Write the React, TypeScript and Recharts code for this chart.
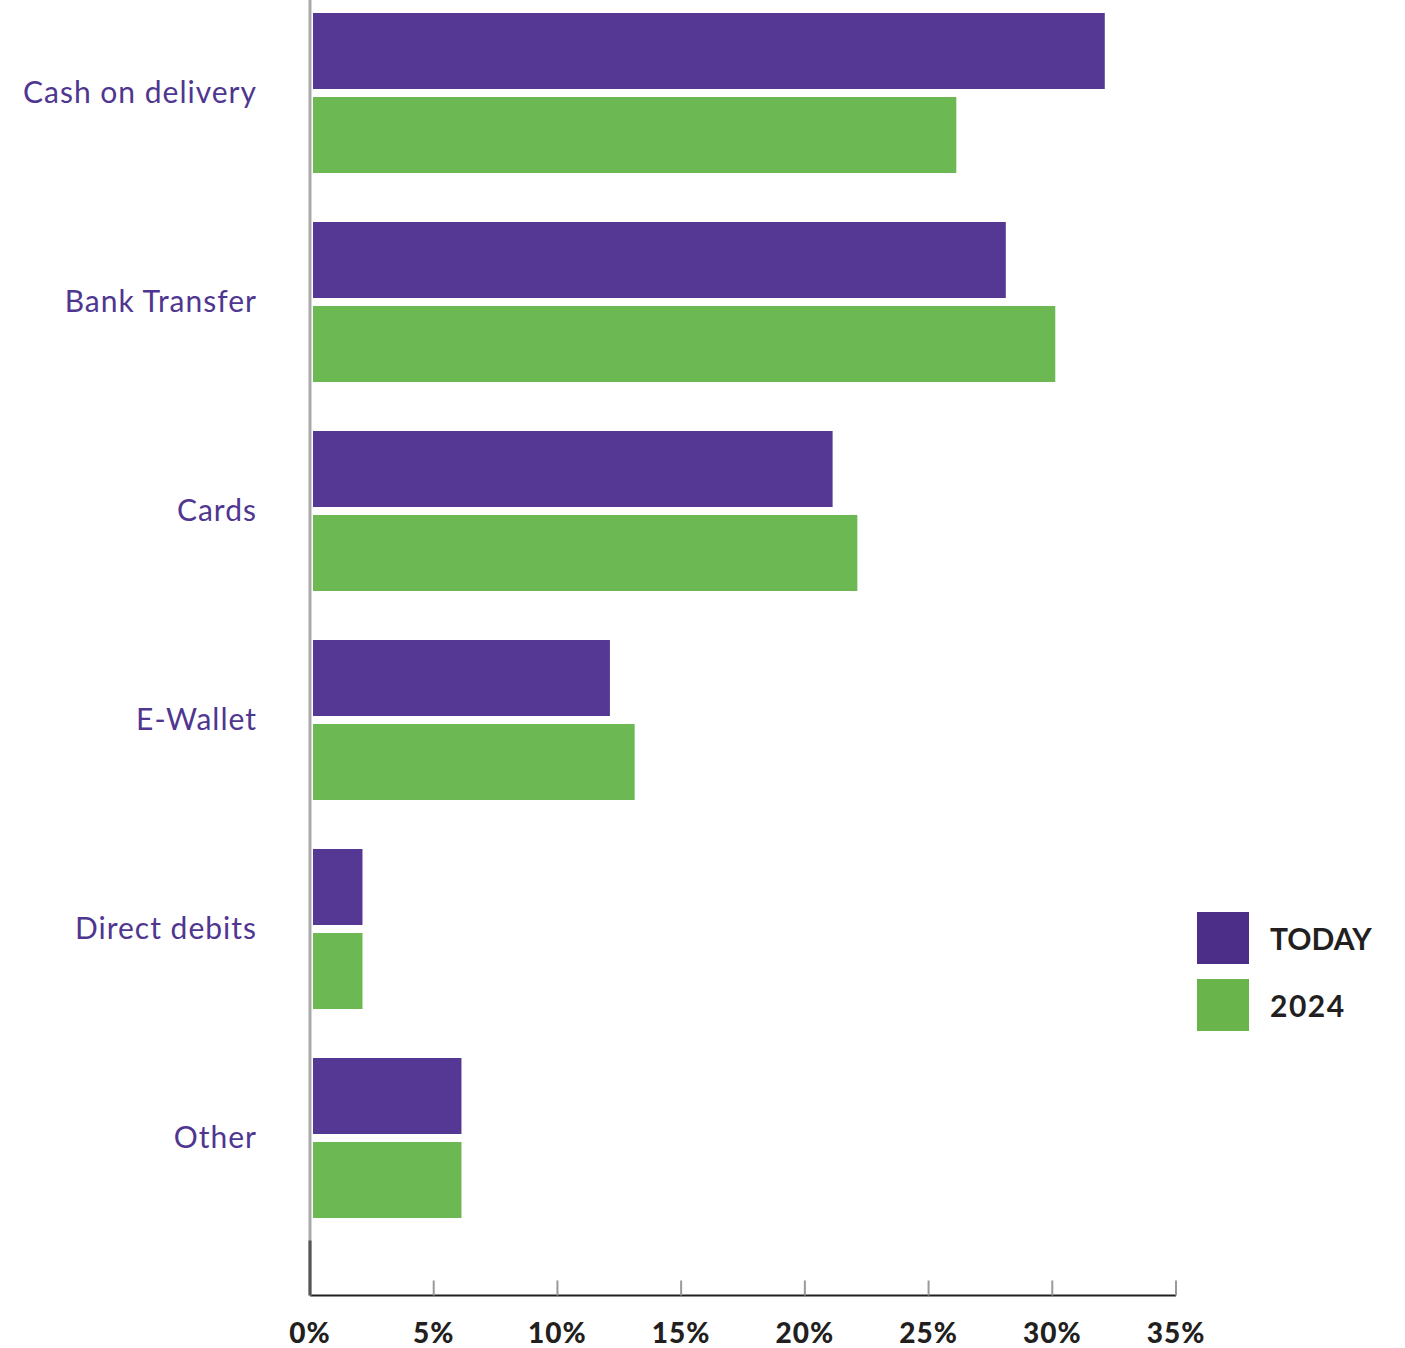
import { BarChart, Bar, XAxis, YAxis } from 'recharts'

const categories = ['Cash on delivery', 'Bank Transfer', 'Cards', 'E-Wallet', 'Direct debits', 'Other']
const todayValues = [32, 28, 21, 12, 2, 6]
const values2024 = [26, 30, 22, 13, 2, 6]
const xTicks = [0, 5, 10, 15, 20, 25, 30, 35]

const PURPLE = '#543893'
const GREEN = '#6cb853'
const FONT = 'Lato, "Open Sans", sans-serif'

const data = categories.map((name, i) => ({ name, today: todayValues[i], y2024: values2024[i] }))

// bars sit a few px off the axis line in the original
const OffsetBar = (p: any) => (
  <rect x={p.x + 3} y={p.y} width={Math.max(0, p.width)} height={p.height} fill={p.fill} />
)

const CategoryTick = ({ x, y, payload }: any) => (
  <text x={x - 53} y={y} dy="0.35em" textAnchor="end" fontSize={30} letterSpacing={1} fill="#4f3690" fontFamily={FONT}>
    {payload.value}
  </text>
)

const PercentTick = ({ x, y, payload, index }: any) => (
  <g>
    {index === 0
      ? <line x1={x} x2={x} y1={y - 55} y2={y} stroke="#555" strokeWidth={3} />
      : <line x1={x} x2={x} y1={y - 15} y2={y} stroke="#999" strokeWidth={2} />}
    <text x={x} y={y + 47} textAnchor="middle" fontSize={28} fontWeight={900} letterSpacing={1} fill="#231f20" fontFamily={FONT}>
      {payload.value}%
    </text>
  </g>
)

function LegendBox() {
  const items = [
    { label: 'TODAY', color: '#4c2d88' },
    { label: '2024', color: '#69b54b' },
  ]
  return (
    <div style={{ position: 'absolute', left: 1197, top: 912, fontFamily: FONT }}>
      {items.map(it => (
        <div key={it.label} style={{ display: 'flex', alignItems: 'center', height: 52, marginBottom: 15 }}>
          <div style={{ width: 52, height: 52, background: it.color }} />
          <span style={{ marginLeft: 21, fontSize: 30, fontWeight: 700, letterSpacing: it.label === '2024' ? 1.5 : 0, color: '#231f20' }}>{it.label}</span>
        </div>
      ))}
    </div>
  )
}

export default function App() {
  return (
    <div style={{ position: 'absolute', left: 0, top: 0, width: 1405, height: 1348, overflow: 'hidden', background: '#fff' }}>
      <div style={{ position: 'absolute', left: 0, top: -12.5 }}>
        <BarChart
          width={1405}
          height={1361}
          data={data}
          layout="vertical"
          margin={{ top: 0, right: 229, left: 10, bottom: 0 }}
          barSize={76}
          barGap={8}
        >
          <XAxis
            type="number"
            domain={[0, 35]}
            ticks={xTicks}
            height={53.5}
            axisLine={{ stroke: '#231f20', strokeWidth: 2 }}
            tickLine={false}
            tickSize={0}
            tickMargin={0}
            tick={<PercentTick />}
          />
          <YAxis
            type="category"
            dataKey="name"
            width={300}
            padding={{ top: 0, bottom: 53.5 }}
            axisLine={{ stroke: '#aaa', strokeWidth: 3 }}
            tickLine={false}
            tickSize={0}
            tickMargin={0}
            tick={<CategoryTick />}
          />
          <Bar dataKey="today" name="TODAY" fill={PURPLE} shape={OffsetBar} isAnimationActive={false} />
          <Bar dataKey="y2024" name="2024" fill={GREEN} shape={OffsetBar} isAnimationActive={false} />
        </BarChart>
      </div>
      <LegendBox />
    </div>
  )
}
